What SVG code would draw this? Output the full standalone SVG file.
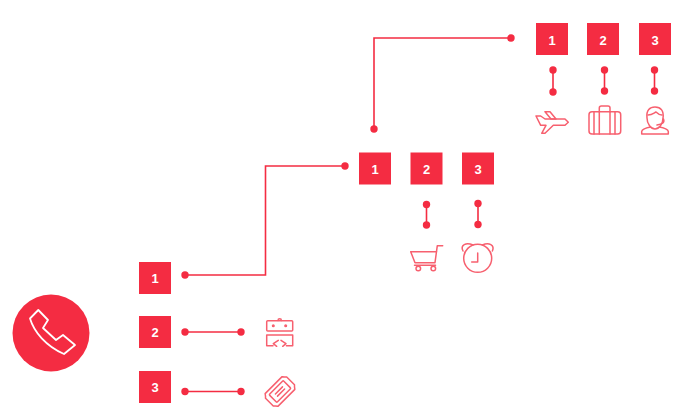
<svg xmlns="http://www.w3.org/2000/svg" width="687" height="420" viewBox="0 0 687 420">
<style>
.box{fill:#f42c42}
.num{fill:#fff;font-family:"Liberation Sans",Arial,sans-serif;font-size:13px;font-weight:700;text-anchor:middle}
.line{fill:none;stroke:#f42c42;stroke-width:1.6}
.dot{fill:#f42c42}
.icon{fill:none;stroke:#f7606f;stroke-width:1.5;stroke-linejoin:round;stroke-linecap:round}
</style>
<rect width="687" height="420" fill="#fff"/>
<g id="connectors">
<path class="line" d="M511 38H374V129"/><circle class="dot" cx="511" cy="38" r="3.7"/><circle class="dot" cx="374" cy="129" r="3.7"/>
<path class="line" d="M345 166H265.500V275H185"/><circle class="dot" cx="345" cy="166" r="3.7"/><circle class="dot" cx="185" cy="275" r="3.7"/>
<path class="line" d="M185 332H241"/><circle class="dot" cx="185" cy="332" r="3.7"/><circle class="dot" cx="241" cy="332" r="3.7"/>
<path class="line" d="M185 391.500H241"/><circle class="dot" cx="185" cy="391.500" r="3.7"/><circle class="dot" cx="241" cy="391.500" r="3.7"/>
<path class="line" d="M553 70V92"/><circle class="dot" cx="553" cy="70" r="3.7"/><circle class="dot" cx="553" cy="92" r="3.7"/>
<path class="line" d="M604.500 70V91"/><circle class="dot" cx="604.500" cy="70" r="3.7"/><circle class="dot" cx="604.500" cy="91" r="3.7"/>
<path class="line" d="M654.500 70V91"/><circle class="dot" cx="654.500" cy="70" r="3.7"/><circle class="dot" cx="654.500" cy="91" r="3.7"/>
<path class="line" d="M426.500 204.500V225"/><circle class="dot" cx="426.500" cy="204.500" r="3.7"/><circle class="dot" cx="426.500" cy="225" r="3.7"/>
<path class="line" d="M478 203.500V224.500"/><circle class="dot" cx="478" cy="203.500" r="3.7"/><circle class="dot" cx="478" cy="224.500" r="3.7"/>
</g>
<g id="phone">
<circle class="box" cx="51" cy="333" r="38.500"/>
<path d="M38.300 310L30 318.500C34 332 46 346 64 354L75 345L63 335L56 340L43 328L48 320Z" fill="none" stroke="#fff" stroke-width="1.800" stroke-linejoin="round"/>
</g>
<g id="n-a1"><rect class="box" x="139" y="262" width="32" height="32"/><text class="num" x="155" y="283">1</text></g>
<g id="n-a2"><rect class="box" x="139" y="316" width="32" height="32"/><text class="num" x="155" y="337">2</text></g>
<g id="n-a3"><rect class="box" x="139" y="371" width="32" height="32"/><text class="num" x="155" y="392">3</text></g>
<g id="n-b1"><rect class="box" x="359" y="152.500" width="32" height="32"/><text class="num" x="375" y="174">1</text></g>
<g id="n-b2"><rect class="box" x="410.500" y="152.500" width="32" height="32"/><text class="num" x="426.500" y="174">2</text></g>
<g id="n-b3"><rect class="box" x="462" y="152.500" width="32" height="32"/><text class="num" x="478" y="174">3</text></g>
<g id="n-c1"><rect class="box" x="536" y="23" width="32" height="32"/><text class="num" x="552" y="44.500">1</text></g>
<g id="n-c2"><rect class="box" x="587" y="23" width="32" height="32"/><text class="num" x="603" y="44.500">2</text></g>
<g id="n-c3"><rect class="box" x="639" y="23" width="32" height="32"/><text class="num" x="655" y="44.500">3</text></g>
<g id="icon-robot" class="icon">
<rect x="266.700" y="320.700" width="26" height="10.300" rx="1"/>
<circle cx="273.300" cy="325.700" r=".8"/><circle cx="285.700" cy="325.700" r=".8"/><path d="M278 320.500a1.700 1.700 0 0 1 3.400 0"/>
<path d="M273 345.700H266.700V335H292.700V345.700H286.400"/>
<path d="M278.300 340.300L273.300 343.700L276.700 346.300M281 340.300L286 343.700L282.700 346.300"/>
</g>
<g id="icon-ticket" class="icon" transform="rotate(-45 280 391.500)">
<path d="M268 382.500H292L293.500 384.500L295 386V397L293.500 398.500L292 400.500H268L266.500 398.500L265 397V386L266.500 384.500Z"/>
<rect x="270" y="386" width="20" height="11" rx="1"/>
<path d="M275 390H285M275 393H285"/>
</g>
<g id="icon-cart" class="icon">
<path d="M442.700 245.700H437.300L435 262.700H415L410.700 251.700H436.700"/>
<path d="M414.500 265.200H435.500"/>
<circle cx="418.300" cy="268.500" r="2.300"/><circle cx="433.300" cy="268.500" r="2.300"/>
</g>
<g id="icon-clock" class="icon">
<circle cx="477.700" cy="258.300" r="14"/>
<path d="M463 251C460 245 466 242 473 245M492.400 251C495 245 489 242 482.400 245"/>
<path d="M477.700 253V262H471.700"/>
</g>
<g id="icon-plane" class="icon">
<path d="M536 116H540.700L545 119H565L568.300 122.300L565 125.300H553.300L545 133.300H541.700L546 125.300H540.700Z"/>
<path d="M545 111.700H550L556 119H551ZM545 111.700"/>
</g>
<g id="icon-case" class="icon">
<rect x="589" y="111.700" width="31.700" height="22.300" rx="3"/>
<path d="M594 111.700V134M599.300 111.700V134M610 111.700V134M615 111.700V134"/>
<path d="M599.300 111.700V108a2 2 0 0 1 2-2H608a2 2 0 0 1 2 2V111.700"/>
</g>
<g id="icon-agent" class="icon">
<path d="M647 118C646 110 650 107 655 107C661 107 664 111 663 118C663 124 659 129 655 129C651 129 647 124 647 118Z"/>
<path d="M648 115C652 115 654 113 656 112C658 114 660 115 662 115"/>
<path d="M641.700 134V131.500C642 129 648 127.500 650.500 127M668.300 134V131.500C668 129 662 127.500 659.500 127M641.700 134H668.300"/>
<path d="M663.500 119C665 123 662 124 657 125"/>
</g>
</svg>
